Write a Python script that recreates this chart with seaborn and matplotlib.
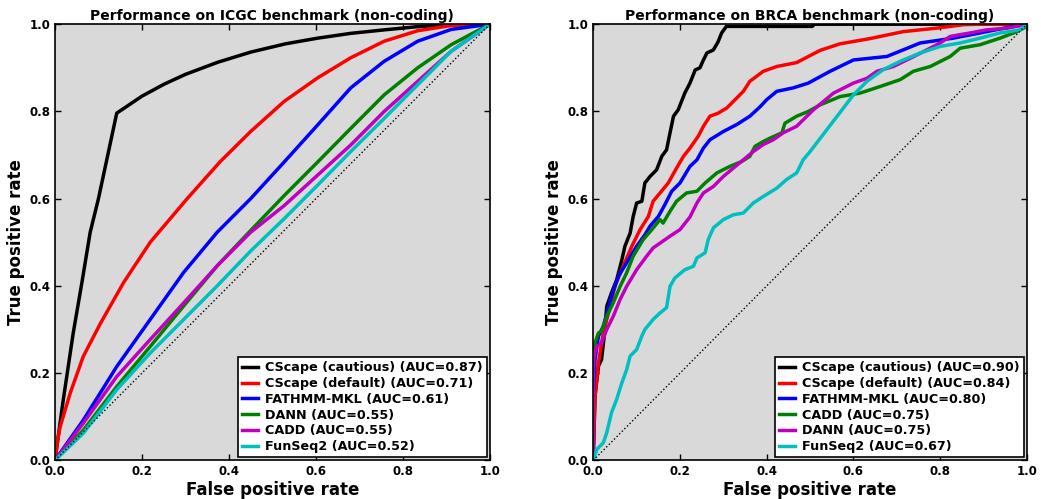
import matplotlib
matplotlib.use("Agg")
import matplotlib.pyplot as plt
import numpy as np
import pandas as pd
import seaborn as sns

# ROC points
icgc_labels = ["CScape (cautious) (AUC=0.87)", "CScape (default) (AUC=0.71)", "FATHMM-MKL (AUC=0.61)",
               "DANN (AUC=0.55)", "CADD (AUC=0.55)", "FunSeq2 (AUC=0.52)"]
icgc_colors = ["k", "r", "b", "g", "m", "c"]
icgc_cautious_fpr = [0, 0.019, 0.042, 0.062, 0.081, 0.1, 0.142, 0.2, 0.25, 0.3, 0.375, 0.45, 0.53, 0.604, 0.68,
                     0.757, 0.83, 0.9, 1.0]
icgc_cautious_tpr = [0, 0.138, 0.292, 0.408, 0.523, 0.6, 0.796, 0.835, 0.862, 0.885, 0.913, 0.936, 0.955, 0.968,
                     0.979, 0.987, 0.994, 0.998, 1.0]
icgc_default_fpr = [0, 0.006, 0.012, 0.035, 0.065, 0.104, 0.158, 0.219, 0.304, 0.38, 0.45, 0.527, 0.604, 0.68,
                    0.757, 0.834, 0.911, 1.0]
icgc_default_tpr = [0, 0.045, 0.077, 0.154, 0.238, 0.313, 0.408, 0.5, 0.6, 0.685, 0.754, 0.823, 0.877, 0.923,
                    0.961, 0.985, 0.997, 1.0]
icgc_fathmm_fpr = [0, 0.065, 0.142, 0.219, 0.296, 0.373, 0.45, 0.527, 0.604, 0.68, 0.757, 0.834, 0.911, 1.0]
icgc_fathmm_tpr = [0, 0.092, 0.215, 0.323, 0.431, 0.523, 0.6, 0.684, 0.769, 0.854, 0.915, 0.961, 0.988, 1.0]
icgc_dann_fpr = [0, 0.065, 0.142, 0.219, 0.296, 0.373, 0.45, 0.527, 0.604, 0.68, 0.757, 0.834, 0.911, 1.0]
icgc_dann_tpr = [0, 0.069, 0.169, 0.261, 0.354, 0.446, 0.527, 0.607, 0.684, 0.761, 0.838, 0.9, 0.953, 1.0]
icgc_cadd_fpr = [0, 0.065, 0.142, 0.219, 0.296, 0.373, 0.45, 0.527, 0.604, 0.68, 0.757, 0.834, 0.911, 1.0]
icgc_cadd_tpr = [0, 0.085, 0.192, 0.277, 0.361, 0.446, 0.523, 0.584, 0.654, 0.723, 0.8, 0.869, 0.938, 1.0]
icgc_funseq_fpr = [0, 0.065, 0.142, 0.219, 0.296, 0.373, 0.45, 0.527, 0.604, 0.68, 0.757, 0.834, 0.911, 1.0]
icgc_funseq_tpr = [0, 0.062, 0.162, 0.246, 0.323, 0.4, 0.48, 0.554, 0.631, 0.708, 0.784, 0.861, 0.938, 1.0]

# ROC points
brca_labels = ["CScape (cautious) (AUC=0.90)", "CScape (default) (AUC=0.84)", "FATHMM-MKL (AUC=0.80)",
               "CADD (AUC=0.75)", "DANN (AUC=0.75)", "FunSeq2 (AUC=0.67)"]
brca_colors = ["k", "r", "b", "g", "m", "c"]
brca_cautious_fpr = [0, 0.004, 0.012, 0.019, 0.027, 0.031, 0.042, 0.054, 0.066, 0.073, 0.085, 0.092, 0.1, 0.112,
                     0.119, 0.131, 0.146, 0.158, 0.169, 0.177, 0.185, 0.196, 0.211, 0.223, 0.235, 0.246, 0.254,
                     0.262, 0.277, 0.288, 0.296, 0.307, 0.505, 0.51, 1.0]
brca_cautious_tpr = [0, 0.147, 0.216, 0.231, 0.3, 0.353, 0.384, 0.414, 0.46, 0.491, 0.521, 0.559, 0.59, 0.594,
                     0.636, 0.651, 0.666, 0.697, 0.712, 0.751, 0.789, 0.804, 0.842, 0.865, 0.895, 0.9, 0.918,
                     0.934, 0.941, 0.96, 0.98, 0.995, 0.995, 1.0, 1.0]
brca_default_fpr = [0, 0.0, 0.004, 0.012, 0.023, 0.035, 0.05, 0.069, 0.089, 0.108, 0.127, 0.138, 0.154, 0.173,
                    0.192, 0.208, 0.223, 0.242, 0.254, 0.269, 0.288, 0.308, 0.323, 0.346, 0.361, 0.392, 0.423,
                    0.469, 0.523, 0.569, 0.638, 0.715, 0.792, 0.854, 0.892, 1.0]
brca_default_tpr = [0, 0.02, 0.147, 0.224, 0.292, 0.338, 0.399, 0.445, 0.491, 0.529, 0.559, 0.594, 0.613, 0.636,
                    0.67, 0.697, 0.716, 0.743, 0.766, 0.789, 0.796, 0.808, 0.823, 0.846, 0.869, 0.892, 0.903,
                    0.912, 0.94, 0.955, 0.967, 0.983, 0.991, 0.999, 1.0, 1.0]
brca_fathmm_fpr = [0, 0.0, 0.002, 0.004, 0.012, 0.023, 0.042, 0.058, 0.077, 0.1, 0.119, 0.131, 0.15, 0.165,
                   0.181, 0.2, 0.223, 0.239, 0.254, 0.269, 0.3, 0.331, 0.361, 0.385, 0.4, 0.423, 0.461, 0.496,
                   0.546, 0.6, 0.677, 0.754, 0.83, 0.907, 0.969, 1.0]
brca_fathmm_tpr = [0, 0.15, 0.193, 0.231, 0.285, 0.307, 0.376, 0.422, 0.453, 0.491, 0.517, 0.537, 0.559, 0.586,
                   0.617, 0.636, 0.674, 0.689, 0.716, 0.735, 0.754, 0.77, 0.789, 0.811, 0.827, 0.846, 0.854,
                   0.865, 0.892, 0.918, 0.926, 0.957, 0.968, 0.983, 0.995, 1.0]
brca_cadd_fpr = [0, 0.0, 0.002, 0.004, 0.012, 0.019, 0.031, 0.046, 0.062, 0.077, 0.092, 0.115, 0.135, 0.154,
                 0.161, 0.177, 0.192, 0.215, 0.239, 0.258, 0.285, 0.315, 0.342, 0.361, 0.373, 0.392, 0.408,
                 0.435, 0.442, 0.469, 0.496, 0.523, 0.569, 0.615, 0.661, 0.708, 0.738, 0.777, 0.823, 0.846,
                 0.892, 0.938, 0.977, 1.0, 1.0]
brca_cadd_tpr = [0, 0.23, 0.246, 0.269, 0.292, 0.296, 0.33, 0.361, 0.399, 0.43, 0.468, 0.506, 0.529, 0.552,
                 0.544, 0.571, 0.594, 0.613, 0.617, 0.636, 0.659, 0.674, 0.685, 0.697, 0.72, 0.731, 0.739,
                 0.751, 0.773, 0.789, 0.8, 0.815, 0.834, 0.842, 0.857, 0.873, 0.892, 0.903, 0.926, 0.945,
                 0.953, 0.968, 0.983, 0.995, 1.0]
brca_dann_fpr = [0, 0.0, 0.002, 0.008, 0.019, 0.031, 0.046, 0.062, 0.077, 0.1, 0.123, 0.138, 0.154, 0.177,
                 0.2, 0.223, 0.239, 0.254, 0.277, 0.3, 0.323, 0.346, 0.369, 0.392, 0.415, 0.438, 0.469, 0.508,
                 0.554, 0.6, 0.631, 0.654, 0.692, 0.731, 0.769, 0.8, 0.823, 0.869, 0.907, 0.954, 1.0]
brca_dann_tpr = [0, 0.2, 0.239, 0.262, 0.269, 0.3, 0.33, 0.369, 0.399, 0.437, 0.468, 0.487, 0.498, 0.514,
                 0.529, 0.558, 0.59, 0.613, 0.628, 0.651, 0.67, 0.689, 0.708, 0.724, 0.735, 0.751, 0.766, 0.804,
                 0.842, 0.865, 0.876, 0.892, 0.903, 0.922, 0.941, 0.957, 0.972, 0.98, 0.987, 0.991, 1.0]
brca_funseq_fpr = [0, 0.008, 0.023, 0.031, 0.042, 0.054, 0.066, 0.077, 0.085, 0.1, 0.112, 0.119, 0.138, 0.154,
                   0.169, 0.177, 0.188, 0.211, 0.231, 0.239, 0.258, 0.265, 0.277, 0.3, 0.323, 0.346, 0.369,
                   0.392, 0.423, 0.446, 0.469, 0.484, 0.5, 0.6, 0.631, 0.669, 0.708, 0.754, 0.8, 0.846, 0.892,
                   0.938, 0.984, 1.0]
brca_funseq_tpr = [0, 0.025, 0.04, 0.063, 0.109, 0.14, 0.178, 0.208, 0.239, 0.254, 0.285, 0.3, 0.323, 0.338,
                   0.35, 0.399, 0.418, 0.437, 0.445, 0.464, 0.476, 0.506, 0.533, 0.552, 0.563, 0.567, 0.59,
                   0.605, 0.624, 0.644, 0.659, 0.689, 0.708, 0.838, 0.869, 0.896, 0.915, 0.934, 0.949, 0.957,
                   0.968, 0.98, 0.987, 1.0]

chance = [0, 1]

icgc_curves = [(icgc_cautious_fpr, icgc_cautious_tpr), (icgc_default_fpr, icgc_default_tpr),
               (icgc_fathmm_fpr, icgc_fathmm_tpr), (icgc_dann_fpr, icgc_dann_tpr),
               (icgc_cadd_fpr, icgc_cadd_tpr), (icgc_funseq_fpr, icgc_funseq_tpr)]
brca_curves = [(brca_cautious_fpr, brca_cautious_tpr), (brca_default_fpr, brca_default_tpr),
               (brca_fathmm_fpr, brca_fathmm_tpr), (brca_cadd_fpr, brca_cadd_tpr),
               (brca_dann_fpr, brca_dann_tpr), (brca_funseq_fpr, brca_funseq_tpr)]

plt.rcParams.update({
    'font.family': 'DejaVu Sans',
    'font.weight': 'bold',
    'axes.labelweight': 'bold',
    'axes.titleweight': 'bold',
    'xtick.direction': 'in',
    'ytick.direction': 'in',
    'xtick.top': True,
    'ytick.right': True,
})

fig = plt.figure(figsize=(10.41, 4.99), dpi=100)
ax1 = fig.add_axes([0.0528, 0.0775, 0.4178, 0.874])
ax2 = fig.add_axes([0.5699, 0.0775, 0.4166, 0.874])

panels = [(ax1, icgc_curves, icgc_labels, icgc_colors, 'Performance on ICGC benchmark (non-coding)'),
          (ax2, brca_curves, brca_labels, brca_colors, 'Performance on BRCA benchmark (non-coding)')]

for ax, curves, labels, colors, title in panels:
    ax.set_facecolor('#d9d9d9')
    for (fpr, tpr), lab, col in zip(curves, labels, colors):
        df = pd.DataFrame({'fpr': fpr, 'tpr': tpr})
        sns.lineplot(data=df, x='fpr', y='tpr', color=col, lw=2.5, label=lab,
                     estimator=None, sort=False, ax=ax)
    ax.plot(chance, chance, 'k:', lw=1)
    ax.set_xlim(0, 1)
    ax.set_ylim(0, 1)
    ax.set_xticks([0, 0.2, 0.4, 0.6, 0.8, 1.0])
    ax.set_yticks([0, 0.2, 0.4, 0.6, 0.8, 1.0])
    ax.tick_params(labelsize=8.5, length=4, width=1)
    for lbl in ax.get_xticklabels() + ax.get_yticklabels():
        lbl.set_fontweight('bold')
    for sp in ax.spines.values():
        sp.set_linewidth(1.2)
    ax.set_xlabel('False positive rate', fontsize=12, labelpad=2)
    ax.set_ylabel('True positive rate', fontsize=12, labelpad=3)
    ax.set_title(title, fontsize=10, pad=3)
    leg = ax.legend(loc='lower right', fontsize=9.2, fancybox=False, framealpha=1,
                    edgecolor='k', handlelength=1.2, handletextpad=0.6, borderpad=0.3,
                    labelspacing=0.22, borderaxespad=0.25)
    leg.get_frame().set_linewidth(1.2)
    for t in leg.get_texts():
        t.set_fontweight('bold')

fig.savefig('out.png', dpi=100)
